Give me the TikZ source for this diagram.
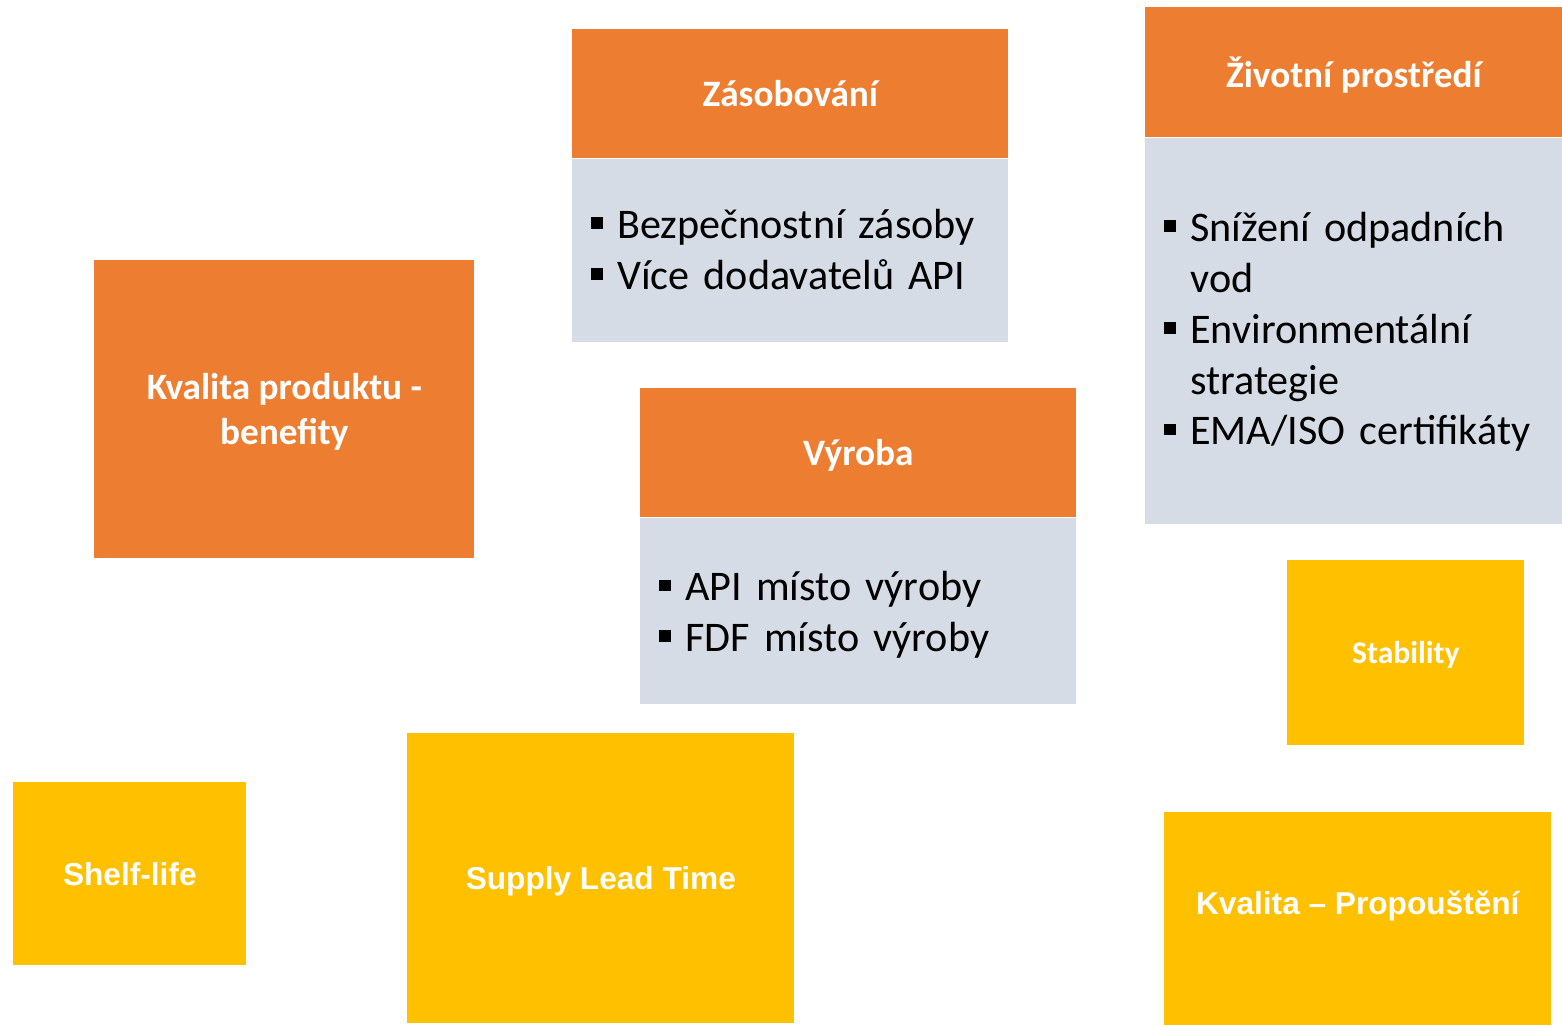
\documentclass[tikz,border=0pt]{standalone}
\usepackage{fontspec}
\setmainfont{Carlito}
\newfontfamily\arialfont{Liberation Sans}
\usetikzlibrary{positioning}
\definecolor{hdorange}{HTML}{ED7D31}
\definecolor{bdgray}{HTML}{D6DCE5}
\definecolor{tagyellow}{HTML}{FFC000}
\newcommand\sqbul{\raisebox{5.4pt}{\rule{6.6pt}{6.6pt}}}
\newcommand\bitem[1]{\par\hangindent=14.8pt\hangafter=1\noindent\makebox[14.8pt][l]{\sqbul}#1}

\begin{document}
\begin{tikzpicture}[x=0.02cm, y=-0.02cm,
  head/.style={fill=hdorange, text=white, font=\fontsize{21.2}{25.6}\selectfont\bfseries, inner sep=0pt, align=center, anchor=north west, text depth=0pt},
  body/.style={fill=bdgray, font=\fontsize{24}{29}\selectfont, inner xsep=0.38cm, inner ysep=0pt, align=left},
  tag/.style={fill=tagyellow, text=white, font=\arialfont\fontsize{18}{22}\selectfont\bfseries, inner sep=0pt, anchor=north west, text depth=0pt},
  tagc/.style={tag, font=\fontsize{18}{22}\selectfont\bfseries}]
\useasboundingbox (0,0) rectangle (1562,1025);
\node [head, minimum width=8.72cm, minimum height=2.58cm] (zashead) at (572,29) {Zásobování};
\node [body, below=0pt of zashead, text width=7.96cm, minimum height=3.66cm] (zasbody)
  {\bitem{Bezpečnostní zásoby}\bitem{Více dodavatelů API}\par\kern13.6pt};
\node [head, minimum width=8.34cm, minimum height=2.6cm] (zivhead) at (1145,7) {Životní prostředí};
\node [body, below=0pt of zivhead, text width=7.58cm, minimum height=7.72cm] (zivbody)
  {\bitem{Snížení odpadních vod}\bitem{Environmentální strategie}\bitem{EMA/ISO certifikáty}\par\kern11.4pt};
\node [head, minimum width=7.6cm, minimum height=5.96cm] (kvalprod) at (94,260) {Kvalita produktu -\\benefity};
\node [head, minimum width=8.72cm, minimum height=2.58cm] (vyrhead) at (640,388) {Výroba};
\node [body, below=0pt of vyrhead, text width=7.96cm, minimum height=3.72cm] (vyrbody)
  {\bitem{API místo výroby}\bitem{FDF místo výroby}\par\kern8pt};
\node [tagc, minimum width=4.74cm, minimum height=3.7cm] (stab) at (1287,560) {Stability};
\node [tag, minimum width=4.66cm, minimum height=3.66cm] (shelf) at (13,782) {Shelf-life};
\node [tag, minimum width=7.74cm, minimum height=5.8cm] (supply) at (407,733) {Supply Lead Time};
\node [tag, minimum width=7.74cm, minimum height=4.26cm] (release) at (1164,812) {};
\node [tag, anchor=center, fill=none] (releasetxt) at ([yshift=-1.82cm]release.north) {Kvalita – Propouštění};
\end{tikzpicture}
\end{document}
